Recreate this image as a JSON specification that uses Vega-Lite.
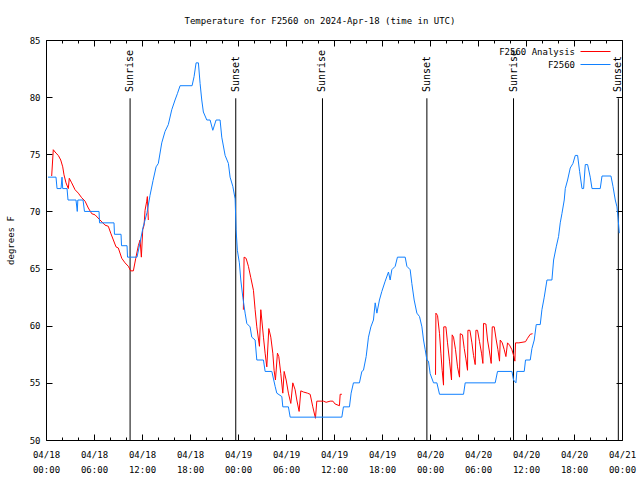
{
  "$schema": "https://vega.github.io/schema/vega-lite/v6.json",
  "width": 576,
  "height": 400,
  "autosize": {"type": "none"},
  "padding": {"left": 46, "top": 40, "right": 18, "bottom": 40},
  "background": "white",
  "title": {"text": "Temperature for F2560 on 2024-Apr-18 (time in UTC)", "font": "DejaVu Sans Mono", "fontSize": 9, "fontWeight": "normal", "color": "black", "anchor": "middle", "dx": -14, "offset": 10},
  "config": {
    "view": {"stroke": "black", "strokeWidth": 1},
    "font": "DejaVu Sans Mono",
    "axis": {"labelFont": "DejaVu Sans Mono", "labelFontSize": 9, "labelColor": "black", "titleFont": "DejaVu Sans Mono", "titleFontSize": 9, "titleFontWeight": "normal", "titleColor": "black", "tickColor": "black", "domain": false, "grid": false},
    "legend": {"labelFont": "DejaVu Sans Mono", "labelFontSize": 9, "labelColor": "black"}
  },
  "datasets": {
    "events": [
      {"hour": 10.51, "event": "Sunrise"},
      {"hour": 23.72, "event": "Sunset"},
      {"hour": 34.56, "event": "Sunrise"},
      {"hour": 47.61, "event": "Sunset"},
      {"hour": 58.44, "event": "Sunrise"},
      {"hour": 71.54, "event": "Sunset"}
    ],
    "temps": [
      {"series": "F2560 Analysis", "run": 1, "hour": 0.71, "temp": 73.1},
      {"series": "F2560 Analysis", "run": 1, "hour": 0.91, "temp": 75.4},
      {"series": "F2560 Analysis", "run": 1, "hour": 1.25, "temp": 75.1},
      {"series": "F2560 Analysis", "run": 1, "hour": 1.54, "temp": 74.9},
      {"series": "F2560 Analysis", "run": 1, "hour": 1.84, "temp": 74.5},
      {"series": "F2560 Analysis", "run": 1, "hour": 2.09, "temp": 73.9},
      {"series": "F2560 Analysis", "run": 1, "hour": 2.25, "temp": 73.2},
      {"series": "F2560 Analysis", "run": 1, "hour": 2.5, "temp": 72.5},
      {"series": "F2560 Analysis", "run": 1, "hour": 2.79, "temp": 72.0},
      {"series": "F2560 Analysis", "run": 1, "hour": 2.91, "temp": 72.9},
      {"series": "F2560 Analysis", "run": 1, "hour": 3.21, "temp": 72.5},
      {"series": "F2560 Analysis", "run": 1, "hour": 3.63, "temp": 71.9},
      {"series": "F2560 Analysis", "run": 1, "hour": 4.04, "temp": 71.6},
      {"series": "F2560 Analysis", "run": 1, "hour": 4.46, "temp": 71.2},
      {"series": "F2560 Analysis", "run": 1, "hour": 4.88, "temp": 70.9},
      {"series": "F2560 Analysis", "run": 1, "hour": 5.29, "temp": 70.3},
      {"series": "F2560 Analysis", "run": 1, "hour": 5.72, "temp": 69.8},
      {"series": "F2560 Analysis", "run": 1, "hour": 6.13, "temp": 69.7},
      {"series": "F2560 Analysis", "run": 1, "hour": 6.75, "temp": 69.25},
      {"series": "F2560 Analysis", "run": 1, "hour": 7.38, "temp": 68.8},
      {"series": "F2560 Analysis", "run": 1, "hour": 7.79, "temp": 68.7},
      {"series": "F2560 Analysis", "run": 1, "hour": 8.09, "temp": 68.1},
      {"series": "F2560 Analysis", "run": 1, "hour": 8.42, "temp": 67.5},
      {"series": "F2560 Analysis", "run": 1, "hour": 8.75, "temp": 66.9},
      {"series": "F2560 Analysis", "run": 1, "hour": 9.04, "temp": 66.8},
      {"series": "F2560 Analysis", "run": 1, "hour": 9.47, "temp": 65.9},
      {"series": "F2560 Analysis", "run": 1, "hour": 9.88, "temp": 65.5},
      {"series": "F2560 Analysis", "run": 1, "hour": 10.29, "temp": 65.2},
      {"series": "F2560 Analysis", "run": 1, "hour": 10.59, "temp": 64.8},
      {"series": "F2560 Analysis", "run": 1, "hour": 10.92, "temp": 64.8},
      {"series": "F2560 Analysis", "run": 1, "hour": 11.22, "temp": 65.9},
      {"series": "F2560 Analysis", "run": 1, "hour": 11.54, "temp": 67.0},
      {"series": "F2560 Analysis", "run": 1, "hour": 11.76, "temp": 67.5},
      {"series": "F2560 Analysis", "run": 1, "hour": 11.92, "temp": 66.0},
      {"series": "F2560 Analysis", "run": 1, "hour": 12.09, "temp": 68.4},
      {"series": "F2560 Analysis", "run": 1, "hour": 12.26, "temp": 68.8},
      {"series": "F2560 Analysis", "run": 1, "hour": 12.38, "temp": 70.1},
      {"series": "F2560 Analysis", "run": 1, "hour": 12.59, "temp": 70.9},
      {"series": "F2560 Analysis", "run": 1, "hour": 12.67, "temp": 71.3},
      {"series": "F2560 Analysis", "run": 1, "hour": 12.79, "temp": 69.25},
      {"series": "F2560 Analysis", "run": 2, "hour": 24.67, "temp": 61.4},
      {"series": "F2560 Analysis", "run": 2, "hour": 24.76, "temp": 66.0},
      {"series": "F2560 Analysis", "run": 2, "hour": 25.01, "temp": 65.9},
      {"series": "F2560 Analysis", "run": 2, "hour": 25.3, "temp": 65.2},
      {"series": "F2560 Analysis", "run": 2, "hour": 25.6, "temp": 64.2},
      {"series": "F2560 Analysis", "run": 2, "hour": 25.93, "temp": 63.1},
      {"series": "F2560 Analysis", "run": 2, "hour": 26.14, "temp": 61.4},
      {"series": "F2560 Analysis", "run": 2, "hour": 26.35, "temp": 59.9},
      {"series": "F2560 Analysis", "run": 2, "hour": 26.68, "temp": 58.2},
      {"series": "F2560 Analysis", "run": 2, "hour": 26.85, "temp": 61.4},
      {"series": "F2560 Analysis", "run": 2, "hour": 26.98, "temp": 60.5},
      {"series": "F2560 Analysis", "run": 2, "hour": 27.18, "temp": 59.0},
      {"series": "F2560 Analysis", "run": 2, "hour": 27.39, "temp": 57.6},
      {"series": "F2560 Analysis", "run": 2, "hour": 27.6, "temp": 56.4},
      {"series": "F2560 Analysis", "run": 2, "hour": 27.85, "temp": 59.75},
      {"series": "F2560 Analysis", "run": 2, "hour": 28.1, "temp": 59.0},
      {"series": "F2560 Analysis", "run": 2, "hour": 28.35, "temp": 57.6},
      {"series": "F2560 Analysis", "run": 2, "hour": 28.51, "temp": 56.1},
      {"series": "F2560 Analysis", "run": 2, "hour": 28.68, "temp": 55.25},
      {"series": "F2560 Analysis", "run": 2, "hour": 28.93, "temp": 57.6},
      {"series": "F2560 Analysis", "run": 2, "hour": 29.1, "temp": 57.3},
      {"series": "F2560 Analysis", "run": 2, "hour": 29.35, "temp": 55.8},
      {"series": "F2560 Analysis", "run": 2, "hour": 29.6, "temp": 54.1},
      {"series": "F2560 Analysis", "run": 2, "hour": 29.77, "temp": 56.0},
      {"series": "F2560 Analysis", "run": 2, "hour": 30.02, "temp": 55.25},
      {"series": "F2560 Analysis", "run": 2, "hour": 30.3, "temp": 54.1},
      {"series": "F2560 Analysis", "run": 2, "hour": 30.6, "temp": 53.2},
      {"series": "F2560 Analysis", "run": 2, "hour": 30.85, "temp": 55.0},
      {"series": "F2560 Analysis", "run": 2, "hour": 31.14, "temp": 54.4},
      {"series": "F2560 Analysis", "run": 2, "hour": 31.35, "temp": 53.5},
      {"series": "F2560 Analysis", "run": 2, "hour": 31.64, "temp": 52.5},
      {"series": "F2560 Analysis", "run": 2, "hour": 31.85, "temp": 54.3},
      {"series": "F2560 Analysis", "run": 2, "hour": 32.18, "temp": 54.2},
      {"series": "F2560 Analysis", "run": 2, "hour": 32.68, "temp": 54.1},
      {"series": "F2560 Analysis", "run": 2, "hour": 33.02, "temp": 54.0},
      {"series": "F2560 Analysis", "run": 2, "hour": 33.35, "temp": 52.9},
      {"series": "F2560 Analysis", "run": 2, "hour": 33.68, "temp": 51.9},
      {"series": "F2560 Analysis", "run": 2, "hour": 33.85, "temp": 53.4},
      {"series": "F2560 Analysis", "run": 2, "hour": 34.27, "temp": 53.4},
      {"series": "F2560 Analysis", "run": 2, "hour": 34.68, "temp": 53.4},
      {"series": "F2560 Analysis", "run": 2, "hour": 35.02, "temp": 53.3},
      {"series": "F2560 Analysis", "run": 2, "hour": 35.52, "temp": 53.4},
      {"series": "F2560 Analysis", "run": 2, "hour": 35.86, "temp": 53.4},
      {"series": "F2560 Analysis", "run": 2, "hour": 36.14, "temp": 53.15},
      {"series": "F2560 Analysis", "run": 2, "hour": 36.68, "temp": 53.0},
      {"series": "F2560 Analysis", "run": 2, "hour": 36.77, "temp": 54.0},
      {"series": "F2560 Analysis", "run": 2, "hour": 36.98, "temp": 54.0},
      {"series": "F2560 Analysis", "run": 3, "hour": 48.69, "temp": 55.7},
      {"series": "F2560 Analysis", "run": 3, "hour": 48.74, "temp": 61.1},
      {"series": "F2560 Analysis", "run": 3, "hour": 48.94, "temp": 60.9},
      {"series": "F2560 Analysis", "run": 3, "hour": 49.19, "temp": 59.3},
      {"series": "F2560 Analysis", "run": 3, "hour": 49.36, "temp": 57.6},
      {"series": "F2560 Analysis", "run": 3, "hour": 49.52, "temp": 56.1},
      {"series": "F2560 Analysis", "run": 3, "hour": 49.69, "temp": 54.8},
      {"series": "F2560 Analysis", "run": 3, "hour": 49.72, "temp": 59.9},
      {"series": "F2560 Analysis", "run": 3, "hour": 49.99, "temp": 59.9},
      {"series": "F2560 Analysis", "run": 3, "hour": 50.19, "temp": 58.5},
      {"series": "F2560 Analysis", "run": 3, "hour": 50.44, "temp": 56.9},
      {"series": "F2560 Analysis", "run": 3, "hour": 50.69, "temp": 55.25},
      {"series": "F2560 Analysis", "run": 3, "hour": 50.77, "temp": 59.2},
      {"series": "F2560 Analysis", "run": 3, "hour": 50.94, "temp": 59.0},
      {"series": "F2560 Analysis", "run": 3, "hour": 51.19, "temp": 57.9},
      {"series": "F2560 Analysis", "run": 3, "hour": 51.44, "temp": 56.4},
      {"series": "F2560 Analysis", "run": 3, "hour": 51.69, "temp": 55.5},
      {"series": "F2560 Analysis", "run": 3, "hour": 51.78, "temp": 59.3},
      {"series": "F2560 Analysis", "run": 3, "hour": 52.06, "temp": 59.2},
      {"series": "F2560 Analysis", "run": 3, "hour": 52.28, "temp": 58.0},
      {"series": "F2560 Analysis", "run": 3, "hour": 52.49, "temp": 57.1},
      {"series": "F2560 Analysis", "run": 3, "hour": 52.69, "temp": 56.1},
      {"series": "F2560 Analysis", "run": 3, "hour": 52.74, "temp": 59.6},
      {"series": "F2560 Analysis", "run": 3, "hour": 52.99, "temp": 59.6},
      {"series": "F2560 Analysis", "run": 3, "hour": 53.24, "temp": 58.5},
      {"series": "F2560 Analysis", "run": 3, "hour": 53.44, "temp": 57.4},
      {"series": "F2560 Analysis", "run": 3, "hour": 53.65, "temp": 56.6},
      {"series": "F2560 Analysis", "run": 3, "hour": 53.74, "temp": 59.6},
      {"series": "F2560 Analysis", "run": 3, "hour": 53.94, "temp": 59.6},
      {"series": "F2560 Analysis", "run": 3, "hour": 54.19, "temp": 58.6},
      {"series": "F2560 Analysis", "run": 3, "hour": 54.44, "temp": 57.6},
      {"series": "F2560 Analysis", "run": 3, "hour": 54.61, "temp": 56.7},
      {"series": "F2560 Analysis", "run": 3, "hour": 54.69, "temp": 60.2},
      {"series": "F2560 Analysis", "run": 3, "hour": 54.99, "temp": 60.15},
      {"series": "F2560 Analysis", "run": 3, "hour": 55.19, "temp": 58.75},
      {"series": "F2560 Analysis", "run": 3, "hour": 55.44, "temp": 57.7},
      {"series": "F2560 Analysis", "run": 3, "hour": 55.65, "temp": 56.7},
      {"series": "F2560 Analysis", "run": 3, "hour": 55.78, "temp": 59.9},
      {"series": "F2560 Analysis", "run": 3, "hour": 56.03, "temp": 59.9},
      {"series": "F2560 Analysis", "run": 3, "hour": 56.28, "temp": 58.75},
      {"series": "F2560 Analysis", "run": 3, "hour": 56.49, "temp": 57.9},
      {"series": "F2560 Analysis", "run": 3, "hour": 56.69, "temp": 56.9},
      {"series": "F2560 Analysis", "run": 3, "hour": 56.78, "temp": 58.75},
      {"series": "F2560 Analysis", "run": 3, "hour": 57.03, "temp": 58.5},
      {"series": "F2560 Analysis", "run": 3, "hour": 57.28, "temp": 57.9},
      {"series": "F2560 Analysis", "run": 3, "hour": 57.49, "temp": 57.3},
      {"series": "F2560 Analysis", "run": 3, "hour": 57.69, "temp": 58.5},
      {"series": "F2560 Analysis", "run": 3, "hour": 57.94, "temp": 58.3},
      {"series": "F2560 Analysis", "run": 3, "hour": 58.24, "temp": 57.9},
      {"series": "F2560 Analysis", "run": 3, "hour": 58.49, "temp": 57.3},
      {"series": "F2560 Analysis", "run": 3, "hour": 58.61, "temp": 56.9},
      {"series": "F2560 Analysis", "run": 3, "hour": 58.69, "temp": 58.5},
      {"series": "F2560 Analysis", "run": 3, "hour": 59.11, "temp": 58.5},
      {"series": "F2560 Analysis", "run": 3, "hour": 59.94, "temp": 58.6},
      {"series": "F2560 Analysis", "run": 3, "hour": 60.19, "temp": 58.9},
      {"series": "F2560 Analysis", "run": 3, "hour": 60.53, "temp": 59.25},
      {"series": "F2560 Analysis", "run": 3, "hour": 60.82, "temp": 59.3},
      {"series": "F2560", "run": 0, "hour": 0.25, "temp": 73.0},
      {"series": "F2560", "run": 0, "hour": 1.25, "temp": 73.0},
      {"series": "F2560", "run": 0, "hour": 1.38, "temp": 72.0},
      {"series": "F2560", "run": 0, "hour": 1.88, "temp": 72.0},
      {"series": "F2560", "run": 0, "hour": 2.0, "temp": 73.0},
      {"series": "F2560", "run": 0, "hour": 2.09, "temp": 72.0},
      {"series": "F2560", "run": 0, "hour": 2.63, "temp": 72.0},
      {"series": "F2560", "run": 0, "hour": 2.75, "temp": 71.0},
      {"series": "F2560", "run": 0, "hour": 3.75, "temp": 71.0},
      {"series": "F2560", "run": 0, "hour": 3.91, "temp": 70.0},
      {"series": "F2560", "run": 0, "hour": 3.98, "temp": 71.0},
      {"series": "F2560", "run": 0, "hour": 4.63, "temp": 71.0},
      {"series": "F2560", "run": 0, "hour": 4.81, "temp": 70.0},
      {"series": "F2560", "run": 0, "hour": 6.63, "temp": 70.0},
      {"series": "F2560", "run": 0, "hour": 6.69, "temp": 69.0},
      {"series": "F2560", "run": 0, "hour": 8.5, "temp": 69.0},
      {"series": "F2560", "run": 0, "hour": 8.56, "temp": 68.0},
      {"series": "F2560", "run": 0, "hour": 9.38, "temp": 68.0},
      {"series": "F2560", "run": 0, "hour": 9.44, "temp": 67.0},
      {"series": "F2560", "run": 0, "hour": 10.13, "temp": 67.0},
      {"series": "F2560", "run": 0, "hour": 10.19, "temp": 66.0},
      {"series": "F2560", "run": 0, "hour": 11.38, "temp": 66.0},
      {"series": "F2560", "run": 0, "hour": 11.76, "temp": 67.3},
      {"series": "F2560", "run": 0, "hour": 12.13, "temp": 68.6},
      {"series": "F2560", "run": 0, "hour": 12.63, "temp": 69.9},
      {"series": "F2560", "run": 0, "hour": 13.0, "temp": 71.4},
      {"series": "F2560", "run": 0, "hour": 13.38, "temp": 72.7},
      {"series": "F2560", "run": 0, "hour": 13.76, "temp": 73.9},
      {"series": "F2560", "run": 0, "hour": 14.04, "temp": 74.2},
      {"series": "F2560", "run": 0, "hour": 14.47, "temp": 76.0},
      {"series": "F2560", "run": 0, "hour": 14.88, "temp": 77.0},
      {"series": "F2560", "run": 0, "hour": 15.29, "temp": 77.6},
      {"series": "F2560", "run": 0, "hour": 15.72, "temp": 78.9},
      {"series": "F2560", "run": 0, "hour": 16.13, "temp": 79.75},
      {"series": "F2560", "run": 0, "hour": 16.42, "temp": 80.3},
      {"series": "F2560", "run": 0, "hour": 16.76, "temp": 81.0},
      {"series": "F2560", "run": 0, "hour": 18.26, "temp": 81.0},
      {"series": "F2560", "run": 0, "hour": 18.51, "temp": 81.8},
      {"series": "F2560", "run": 0, "hour": 18.76, "temp": 83.0},
      {"series": "F2560", "run": 0, "hour": 19.05, "temp": 83.0},
      {"series": "F2560", "run": 0, "hour": 19.26, "temp": 81.2},
      {"series": "F2560", "run": 0, "hour": 19.47, "temp": 79.75},
      {"series": "F2560", "run": 0, "hour": 19.67, "temp": 78.7},
      {"series": "F2560", "run": 0, "hour": 20.1, "temp": 78.0},
      {"series": "F2560", "run": 0, "hour": 20.51, "temp": 78.0},
      {"series": "F2560", "run": 0, "hour": 20.85, "temp": 77.1},
      {"series": "F2560", "run": 0, "hour": 21.26, "temp": 78.0},
      {"series": "F2560", "run": 0, "hour": 21.76, "temp": 78.0},
      {"series": "F2560", "run": 0, "hour": 21.97, "temp": 76.5},
      {"series": "F2560", "run": 0, "hour": 22.39, "temp": 74.9},
      {"series": "F2560", "run": 0, "hour": 22.8, "temp": 74.2},
      {"series": "F2560", "run": 0, "hour": 23.01, "temp": 73.0},
      {"series": "F2560", "run": 0, "hour": 23.35, "temp": 72.2},
      {"series": "F2560", "run": 0, "hour": 23.64, "temp": 71.1},
      {"series": "F2560", "run": 0, "hour": 23.76, "temp": 68.4},
      {"series": "F2560", "run": 0, "hour": 23.92, "temp": 66.6},
      {"series": "F2560", "run": 0, "hour": 24.17, "temp": 65.5},
      {"series": "F2560", "run": 0, "hour": 24.35, "temp": 64.0},
      {"series": "F2560", "run": 0, "hour": 24.6, "temp": 62.5},
      {"series": "F2560", "run": 0, "hour": 24.89, "temp": 61.1},
      {"series": "F2560", "run": 0, "hour": 25.1, "temp": 60.2},
      {"series": "F2560", "run": 0, "hour": 25.51, "temp": 59.9},
      {"series": "F2560", "run": 0, "hour": 25.72, "temp": 59.0},
      {"series": "F2560", "run": 0, "hour": 26.14, "temp": 58.75},
      {"series": "F2560", "run": 0, "hour": 26.35, "temp": 57.0},
      {"series": "F2560", "run": 0, "hour": 27.18, "temp": 57.0},
      {"series": "F2560", "run": 0, "hour": 27.39, "temp": 56.0},
      {"series": "F2560", "run": 0, "hour": 28.23, "temp": 56.0},
      {"series": "F2560", "run": 0, "hour": 28.64, "temp": 54.7},
      {"series": "F2560", "run": 0, "hour": 28.85, "temp": 54.1},
      {"series": "F2560", "run": 0, "hour": 29.48, "temp": 53.8},
      {"series": "F2560", "run": 0, "hour": 29.6, "temp": 52.9},
      {"series": "F2560", "run": 0, "hour": 30.3, "temp": 52.9},
      {"series": "F2560", "run": 0, "hour": 30.52, "temp": 52.0},
      {"series": "F2560", "run": 0, "hour": 36.98, "temp": 52.0},
      {"series": "F2560", "run": 0, "hour": 37.18, "temp": 52.9},
      {"series": "F2560", "run": 0, "hour": 37.93, "temp": 52.9},
      {"series": "F2560", "run": 0, "hour": 38.14, "temp": 54.1},
      {"series": "F2560", "run": 0, "hour": 38.43, "temp": 55.0},
      {"series": "F2560", "run": 0, "hour": 39.18, "temp": 55.0},
      {"series": "F2560", "run": 0, "hour": 39.48, "temp": 56.0},
      {"series": "F2560", "run": 0, "hour": 39.68, "temp": 56.1},
      {"series": "F2560", "run": 0, "hour": 40.02, "temp": 57.3},
      {"series": "F2560", "run": 0, "hour": 40.31, "temp": 59.0},
      {"series": "F2560", "run": 0, "hour": 40.61, "temp": 59.9},
      {"series": "F2560", "run": 0, "hour": 40.93, "temp": 60.5},
      {"series": "F2560", "run": 0, "hour": 41.15, "temp": 62.0},
      {"series": "F2560", "run": 0, "hour": 41.36, "temp": 61.1},
      {"series": "F2560", "run": 0, "hour": 41.68, "temp": 62.25},
      {"series": "F2560", "run": 0, "hour": 41.98, "temp": 63.0},
      {"series": "F2560", "run": 0, "hour": 42.4, "temp": 63.9},
      {"series": "F2560", "run": 0, "hour": 42.81, "temp": 64.7},
      {"series": "F2560", "run": 0, "hour": 43.02, "temp": 64.0},
      {"series": "F2560", "run": 0, "hour": 43.23, "temp": 64.9},
      {"series": "F2560", "run": 0, "hour": 43.65, "temp": 65.2},
      {"series": "F2560", "run": 0, "hour": 43.93, "temp": 66.0},
      {"series": "F2560", "run": 0, "hour": 44.9, "temp": 66.0},
      {"series": "F2560", "run": 0, "hour": 45.11, "temp": 65.2},
      {"series": "F2560", "run": 0, "hour": 45.52, "temp": 64.9},
      {"series": "F2560", "run": 0, "hour": 45.73, "temp": 63.7},
      {"series": "F2560", "run": 0, "hour": 46.02, "temp": 62.25},
      {"series": "F2560", "run": 0, "hour": 46.36, "temp": 61.1},
      {"series": "F2560", "run": 0, "hour": 46.69, "temp": 60.8},
      {"series": "F2560", "run": 0, "hour": 46.99, "temp": 59.9},
      {"series": "F2560", "run": 0, "hour": 47.19, "temp": 58.75},
      {"series": "F2560", "run": 0, "hour": 47.4, "temp": 57.9},
      {"series": "F2560", "run": 0, "hour": 47.61, "temp": 57.0},
      {"series": "F2560", "run": 0, "hour": 47.81, "temp": 56.9},
      {"series": "F2560", "run": 0, "hour": 48.02, "temp": 55.8},
      {"series": "F2560", "run": 0, "hour": 48.44, "temp": 55.0},
      {"series": "F2560", "run": 0, "hour": 48.86, "temp": 55.0},
      {"series": "F2560", "run": 0, "hour": 49.19, "temp": 54.0},
      {"series": "F2560", "run": 0, "hour": 52.19, "temp": 54.0},
      {"series": "F2560", "run": 0, "hour": 52.4, "temp": 55.0},
      {"series": "F2560", "run": 0, "hour": 56.15, "temp": 55.0},
      {"series": "F2560", "run": 0, "hour": 56.44, "temp": 56.0},
      {"series": "F2560", "run": 0, "hour": 58.24, "temp": 56.0},
      {"series": "F2560", "run": 0, "hour": 58.44, "temp": 55.25},
      {"series": "F2560", "run": 0, "hour": 58.74, "temp": 55.0},
      {"series": "F2560", "run": 0, "hour": 58.86, "temp": 56.0},
      {"series": "F2560", "run": 0, "hour": 59.78, "temp": 56.0},
      {"series": "F2560", "run": 0, "hour": 59.94, "temp": 57.0},
      {"series": "F2560", "run": 0, "hour": 60.53, "temp": 57.0},
      {"series": "F2560", "run": 0, "hour": 60.74, "temp": 58.0},
      {"series": "F2560", "run": 0, "hour": 61.03, "temp": 58.75},
      {"series": "F2560", "run": 0, "hour": 61.28, "temp": 60.1},
      {"series": "F2560", "run": 0, "hour": 61.78, "temp": 60.1},
      {"series": "F2560", "run": 0, "hour": 61.99, "temp": 61.4},
      {"series": "F2560", "run": 0, "hour": 62.28, "temp": 62.5},
      {"series": "F2560", "run": 0, "hour": 62.62, "temp": 64.0},
      {"series": "F2560", "run": 0, "hour": 63.24, "temp": 64.0},
      {"series": "F2560", "run": 0, "hour": 63.45, "temp": 65.75},
      {"series": "F2560", "run": 0, "hour": 63.78, "temp": 66.9},
      {"series": "F2560", "run": 0, "hour": 64.07, "temp": 67.8},
      {"series": "F2560", "run": 0, "hour": 64.28, "temp": 69.0},
      {"series": "F2560", "run": 0, "hour": 64.49, "temp": 69.8},
      {"series": "F2560", "run": 0, "hour": 64.78, "temp": 71.0},
      {"series": "F2560", "run": 0, "hour": 64.91, "temp": 72.0},
      {"series": "F2560", "run": 0, "hour": 65.2, "temp": 72.75},
      {"series": "F2560", "run": 0, "hour": 65.53, "temp": 73.8},
      {"series": "F2560", "run": 0, "hour": 65.87, "temp": 74.2},
      {"series": "F2560", "run": 0, "hour": 66.16, "temp": 74.9},
      {"series": "F2560", "run": 0, "hour": 66.45, "temp": 74.9},
      {"series": "F2560", "run": 0, "hour": 66.7, "temp": 73.5},
      {"series": "F2560", "run": 0, "hour": 67.0, "temp": 72.0},
      {"series": "F2560", "run": 0, "hour": 67.2, "temp": 72.0},
      {"series": "F2560", "run": 0, "hour": 67.41, "temp": 74.1},
      {"series": "F2560", "run": 0, "hour": 67.7, "temp": 74.1},
      {"series": "F2560", "run": 0, "hour": 68.03, "temp": 73.0},
      {"series": "F2560", "run": 0, "hour": 68.25, "temp": 72.0},
      {"series": "F2560", "run": 0, "hour": 69.28, "temp": 72.0},
      {"series": "F2560", "run": 0, "hour": 69.5, "temp": 73.1},
      {"series": "F2560", "run": 0, "hour": 70.62, "temp": 73.1},
      {"series": "F2560", "run": 0, "hour": 70.87, "temp": 72.2},
      {"series": "F2560", "run": 0, "hour": 71.16, "temp": 71.0},
      {"series": "F2560", "run": 0, "hour": 71.37, "temp": 70.4},
      {"series": "F2560", "run": 0, "hour": 71.5, "temp": 69.5},
      {"series": "F2560", "run": 0, "hour": 71.66, "temp": 68.1}
    ]
  },
  "resolve": {"axis": {"x": "independent", "y": "independent"}},
  "layer": [
    {
      "data": {"name": "events"},
      "mark": {"type": "rule", "color": "black", "strokeWidth": 1},
      "encoding": {
        "x": {"field": "hour", "type": "quantitative", "scale": {"domain": [0, 72], "nice": false},
          "axis": {"orient": "bottom", "title": null, "values": [0, 2, 4, 6, 8, 10, 12, 14, 16, 18, 20, 22, 24, 26, 28, 30, 32, 34, 36, 38, 40, 42, 44, 46, 48, 50, 52, 54, 56, 58, 60, 62, 64, 66, 68, 70, 72],
            "tickSize": {"condition": {"test": "datum.value % 6 === 0", "value": -6}, "value": -3},
            "labelExpr": "datum.value % 6 === 0 ? ['04/' + (18 + floor(datum.value / 24)), ((datum.value % 24) < 10 ? '0' : '') + (datum.value % 24) + ':00'] : ''",
            "labelPadding": 16, "labelLineHeight": 15, "labelBaseline": "top", "labelAlign": "center", "labelFlush": false, "labelOverlap": false}},
        "y": {"datum": 79.9, "type": "quantitative", "scale": {"domain": [50, 85], "nice": false},
          "axis": {"orient": "left", "title": "degrees F", "values": [50, 55, 60, 65, 70, 75, 80, 85], "tickSize": -6, "labelPadding": 12, "titlePadding": 14}},
        "y2": {"datum": 50}
      }
    },
    {
      "data": {"name": "events"},
      "mark": {"type": "text", "angle": 270, "align": "left", "baseline": "middle", "font": "DejaVu Sans Mono", "fontSize": 10, "color": "black"},
      "encoding": {
        "x": {"field": "hour", "type": "quantitative", "axis": null},
        "y": {"datum": 80.45, "type": "quantitative", "axis": null},
        "text": {"field": "event"}
      }
    },
    {
      "data": {"name": "temps"},
      "mark": {"type": "line", "strokeWidth": 1, "clip": true},
      "encoding": {
        "x": {"field": "hour", "type": "quantitative",
          "axis": {"orient": "top", "title": null, "labels": false, "values": [0, 2, 4, 6, 8, 10, 12, 14, 16, 18, 20, 22, 24, 26, 28, 30, 32, 34, 36, 38, 40, 42, 44, 46, 48, 50, 52, 54, 56, 58, 60, 62, 64, 66, 68, 70, 72],
            "tickSize": {"condition": {"test": "datum.value % 6 === 0", "value": -6}, "value": -3}}},
        "y": {"field": "temp", "type": "quantitative",
          "axis": {"orient": "right", "title": null, "labels": false, "values": [50, 55, 60, 65, 70, 75, 80, 85], "tickSize": -6}},
        "color": {"field": "series", "type": "nominal",
          "scale": {"domain": ["F2560 Analysis", "F2560"], "range": ["#ff0000", "#1080ff"]},
          "legend": {"title": null, "orient": "none", "legendX": 544, "legendY": 6, "symbolType": "M-3,0H3", "symbolStrokeWidth": 1, "symbolSize": 100, "symbolFillColor": "transparent", "labelAlign": "right", "labelOffset": -26, "rowPadding": 2, "padding": 0}},
        "detail": {"field": "run", "type": "nominal"},
        "order": {"field": "hour", "type": "quantitative"}
      }
    }
  ]
}
